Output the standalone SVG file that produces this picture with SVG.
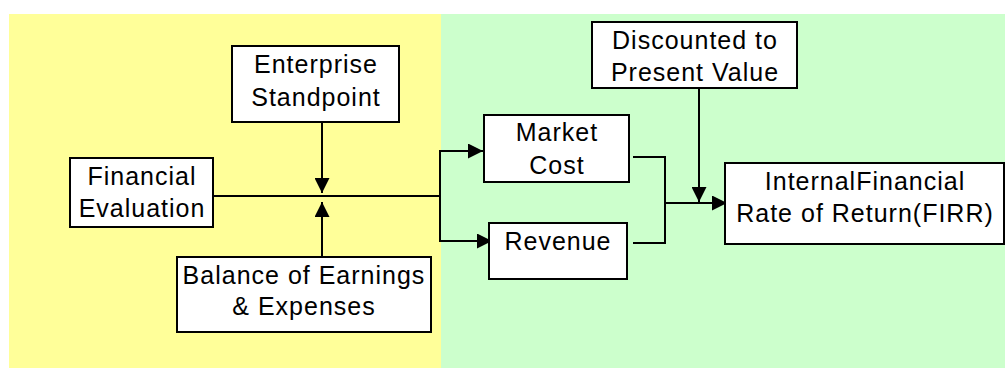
<svg xmlns="http://www.w3.org/2000/svg" width="1005" height="368" viewBox="0 0 1005 368">
<style>
.box{fill:#fff;stroke:#000;stroke-width:2}
.t{font-family:"Liberation Sans",Arial,sans-serif;font-size:25px;fill:#000;text-anchor:middle;letter-spacing:1px}
.ln{fill:none;stroke:#000;stroke-width:2}
</style>
<defs>
<marker id="ah" markerUnits="userSpaceOnUse" markerWidth="15" markerHeight="15" refX="15" refY="7.5" orient="auto" viewBox="0 0 15 15">
<path d="M0,0 L15,7.5 L0,15 z" fill="#000"/>
</marker>
</defs>
<rect x="0" y="0" width="1005" height="368" fill="#fff"/>
<rect x="9" y="14" width="432" height="354" fill="#FFFF99"/>
<rect x="441" y="14" width="564" height="354" fill="#CCFFCC"/>

<g id="connectors">
<line class="ln" x1="213" y1="196" x2="440" y2="196"/>
<line class="ln" x1="322" y1="122" x2="322" y2="193" marker-end="url(#ah)"/>
<line class="ln" x1="322" y1="257" x2="322" y2="202" marker-end="url(#ah)"/>
<line class="ln" x1="440" y1="150" x2="440" y2="242"/>
<line class="ln" x1="439" y1="151" x2="483" y2="151" marker-end="url(#ah)"/>
<line class="ln" x1="439" y1="241" x2="492" y2="241" marker-end="url(#ah)"/>
<polyline class="ln" points="633,157 665,157"/>
<polyline class="ln" points="633,243 665,243 665,156"/>
<line class="ln" x1="664" y1="203" x2="727" y2="203" marker-end="url(#ah)"/>
<line class="ln" x1="699" y1="88" x2="699" y2="202" marker-end="url(#ah)"/>
</g>

<g id="enterprise">
<rect class="box" x="232" y="46" width="167" height="76"/>
<text class="t" x="316" y="73">Enterprise</text>
<text class="t" x="316" y="106">Standpoint</text>
</g>
<g id="financial">
<rect class="box" x="70" y="158" width="143" height="69"/>
<text class="t" x="142" y="185">Financial</text>
<text class="t" x="142" y="217">Evaluation</text>
</g>
<g id="balance">
<rect class="box" x="177" y="257" width="254" height="75"/>
<text class="t" x="304" y="284">Balance of Earnings</text>
<text class="t" x="304" y="315">&amp; Expenses</text>
</g>
<g id="discounted">
<rect class="box" x="592" y="22" width="205" height="66"/>
<text class="t" x="695" y="49">Discounted to</text>
<text class="t" x="695" y="81">Present Value</text>
</g>
<g id="market">
<rect class="box" x="484" y="115" width="145" height="67"/>
<text class="t" x="557" y="141">Market</text>
<text class="t" x="557" y="174">Cost</text>
</g>
<g id="revenue">
<rect class="box" x="489" y="223" width="138" height="56"/>
<text class="t" x="558" y="250">Revenue</text>
</g>
<g id="firr">
<rect class="box" x="725" y="163" width="279" height="81"/>
<text class="t" x="865" y="190">InternalFinancial</text>
<text class="t" x="865" y="222">Rate of Return(FIRR)</text>
</g>
</svg>
